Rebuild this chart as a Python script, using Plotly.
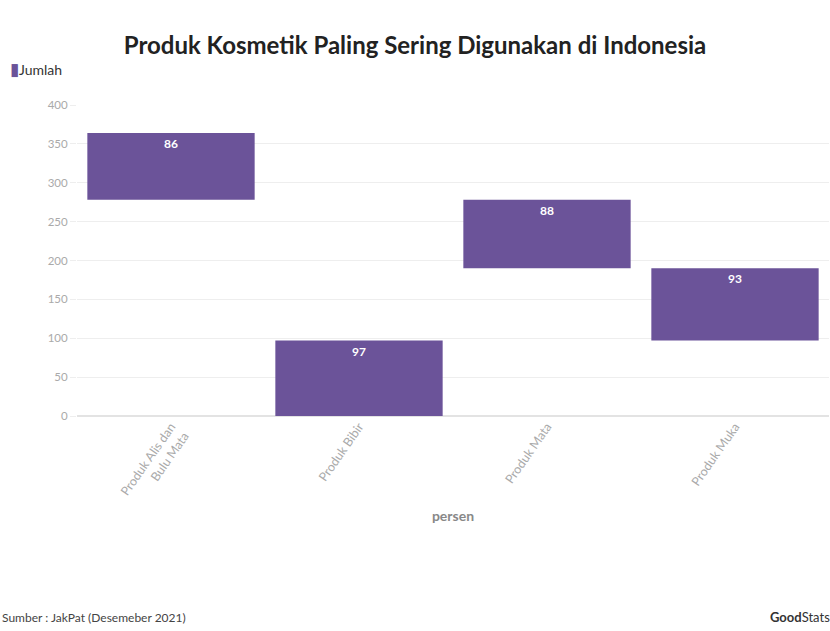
import plotly.graph_objects as go

categories = ["Produk Alis dan<br>Bulu Mata", "Produk Bibir", "Produk Mata", "Produk Muka"]
values = [86, 97, 88, 93]
series_name = "Jumlah"
y_ticks = [0, 50, 100, 150, 200, 250, 300, 350, 400]

# floating (waterfall-like) bases: stacked in descending order of value
order = sorted(range(len(values)), key=lambda i: -values[i])
bases = [0] * len(values)
acc = 0
for i in order:
    bases[i] = acc
    acc += values[i]

color = "#6b5399"

fig = go.Figure()
fig.add_trace(go.Bar(
    x=categories, y=values, base=bases, name=series_name,
    marker=dict(color=color, line=dict(width=0)),
    text=[str(v) for v in values], textposition="inside",
    insidetextanchor="end",
    textfont=dict(color="white", size=12, family="Lato", weight="bold"),
    width=0.89, showlegend=False,
))

fig.update_layout(
    width=830, height=631,
    margin=dict(l=77, r=1, t=105, b=215),
    paper_bgcolor="white", plot_bgcolor="white",
    title=dict(text="<b>Produk Kosmetik Paling Sering Digunakan di Indonesia</b>",
               x=0.5, xref="container", y=0.928, yref="container", yanchor="middle",
               font=dict(family="Lato", size=24, color="#222222")),
    font=dict(family="Lato", color="#999999"),
    xaxis=dict(tickangle=-55, tickfont=dict(size=12.5, color="#aaaaaa"),
               title=dict(text="<b>persen</b>", font=dict(size=14, color="#888888"), standoff=4),
               showline=False, showgrid=False),
    yaxis=dict(range=[0, 400], tickvals=y_ticks, tickfont=dict(size=11.5, color="#aaaaaa"),
               gridcolor="#eeeeee", zeroline=True, zerolinecolor="#e3e3e3",
               ticks="outside", ticklen=6, tickcolor="#eeeeee"),
)

# legend as text (series name with coloured marker glyph)
fig.add_annotation(text=f"<span style='color:{color};font-size:17px'>▮</span>{series_name}",
                   xref="paper", yref="paper", x=-69/752, y=(416-68)/311,
                   xanchor="left", yanchor="middle", showarrow=False,
                   font=dict(size=14, color="#333333", family="Lato"))

fig.add_annotation(text="Sumber : JakPat (Desemeber 2021)", xref="paper", yref="paper",
                   x=-77/752, y=-(617-416)/311, xanchor="left", yanchor="middle",
                   showarrow=False, font=dict(size=12, color="#444444"))
fig.add_annotation(text="<b>Good</b>Stats", xref="paper", yref="paper",
                   x=(768-77)/752, y=-(617-416)/311, xanchor="left", yanchor="middle",
                   showarrow=False, font=dict(size=13, color="#333333"))

fig.write_html("out.html")
